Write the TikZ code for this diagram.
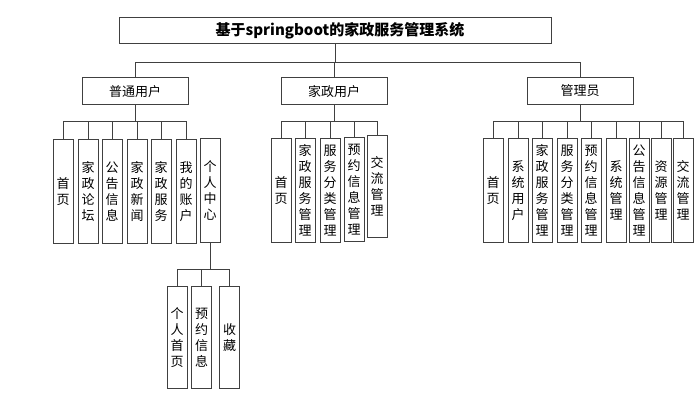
\documentclass[tikz,border=0pt]{standalone}
\usepackage{fontspec}
\setmainfont{Noto Sans CJK SC}
\usepackage{tikz}
\usetikzlibrary{positioning}
\usetikzlibrary{calc}

\begin{document}
\begin{tikzpicture}[x=1pt, y=-1pt, line width=1pt, draw=black!75,
    titlebox/.style={draw, minimum width=432pt, minimum height=26pt, inner sep=0pt, font=\fontsize{15}{18}\selectfont\bfseries},
    rolebox/.style={draw, minimum width=106pt, minimum height=27pt, inner sep=0pt, font=\fontsize{13}{16}\selectfont},
    leaf/.style={draw, anchor=north, minimum width=20pt, minimum height=104pt, inner sep=0pt, align=center, font=\fontsize{13}{16}\selectfont}]
        \useasboundingbox (0,0) rectangle (700,406);

        % top
        \node[titlebox] (root) at (335,31) {\hspace*{10pt}基于springboot的家政服务管理系统};

        % roles
        \node[rolebox] (ptyh) at (135,91.5) {普通用户};
        \node[rolebox] (jzyh) at (334,91.5) {家政用户};
        \node[rolebox] (gly) at (580,91) {管理员};

        % 普通用户
        \node[leaf] (p1) at (63,139) {首\\页};
        \node[leaf] (p2) at (88,139) {家\\政\\论\\坛};
        \node[leaf] (p3) at (112,139) {公\\告\\信\\息};
        \node[leaf] (p4) at (137,139) {家\\政\\新\\闻};
        \node[leaf] (p5) at (161,139) {家\\政\\服\\务};
        \node[leaf] (p6) at (186,139) {我\\的\\账\\户};
        \node[leaf] (p7) at (210,138) {个\\人\\中\\心};

        % 个人中心
        \node[leaf, minimum height=102pt] (q1) at (177,286) {个\\人\\首\\页};
        \node[leaf, minimum height=102pt] (q2) at (201.5,286) {预\\约\\信\\息};
        \node[leaf, minimum height=102pt] (q3) at (229.5,286) {收\\藏};

        % 家政用户
        \node[leaf] (j1) at (281,138) {首\\页};
        \node[leaf] (j2) at (305,138) {家\\政\\服\\务\\管\\理};
        \node[leaf] (j3) at (330,138) {服\\务\\分\\类\\管\\理};
        \node[leaf] (j4) at (354,137) {预\\约\\信\\息\\管\\理};
        \node[leaf, minimum height=102pt] (j5) at (377,135) {交\\流\\管\\理};

        % 管理员
        \node[leaf] (g1) at (493,138) {首\\页};
        \node[leaf] (g2) at (518,138) {系\\统\\用\\户};
        \node[leaf] (g3) at (542,138) {家\\政\\服\\务\\管\\理};
        \node[leaf] (g4) at (567,138) {服\\务\\分\\类\\管\\理};
        \node[leaf] (g5) at (591,138) {预\\约\\信\\息\\管\\理};
        \node[leaf] (g6) at (616,138) {系\\统\\管\\理};
        \node[leaf] (g7) at (639,138) {公\\告\\信\\息\\管\\理};
        \node[leaf] (g8) at (661,138) {资\\源\\管\\理};
        \node[leaf] (g9) at (683,138) {交\\流\\管\\理};

        % connectors
        \draw (root.south) -- (root.south |- 0,63);
        \draw (ptyh.north) |- (gly.north |- 0,63) -- (gly.north);
        \draw (jzyh.north) -- (jzyh.north |- 0,63);

        \draw (ptyh.south) -- (ptyh.south |- 0,122);
        \draw (p1.north) |- (p6.north |- 0,122) -- (p6.north);
        \foreach \n in {p2,p3,p4,p5}
            \draw (\n.north) -- (\n.north |- 0,122);

        \draw (p7.south) -- (p7.south |- 0,269);
        \draw (q1.north) |- (q3.north |- 0,269) -- (q3.north);
        \draw (q2.north) -- (q2.north |- 0,269);

        \draw (jzyh.south) -- (jzyh.south |- 0,122);
        \draw (j1.north) |- (j5.north |- 0,122) -- (j5.north);
        \foreach \n in {j2,j3,j4}
            \draw (\n.north) -- (\n.north |- 0,122);

        \draw (gly.south) -- (gly.south |- 0,122);
        \draw (g1.north) |- (g9.north |- 0,122) -- (g9.north);
        \foreach \n in {g2,g3,g4,g5,g6,g7,g8}
            \draw (\n.north) -- (\n.north |- 0,122);
\end{tikzpicture}
\end{document}
